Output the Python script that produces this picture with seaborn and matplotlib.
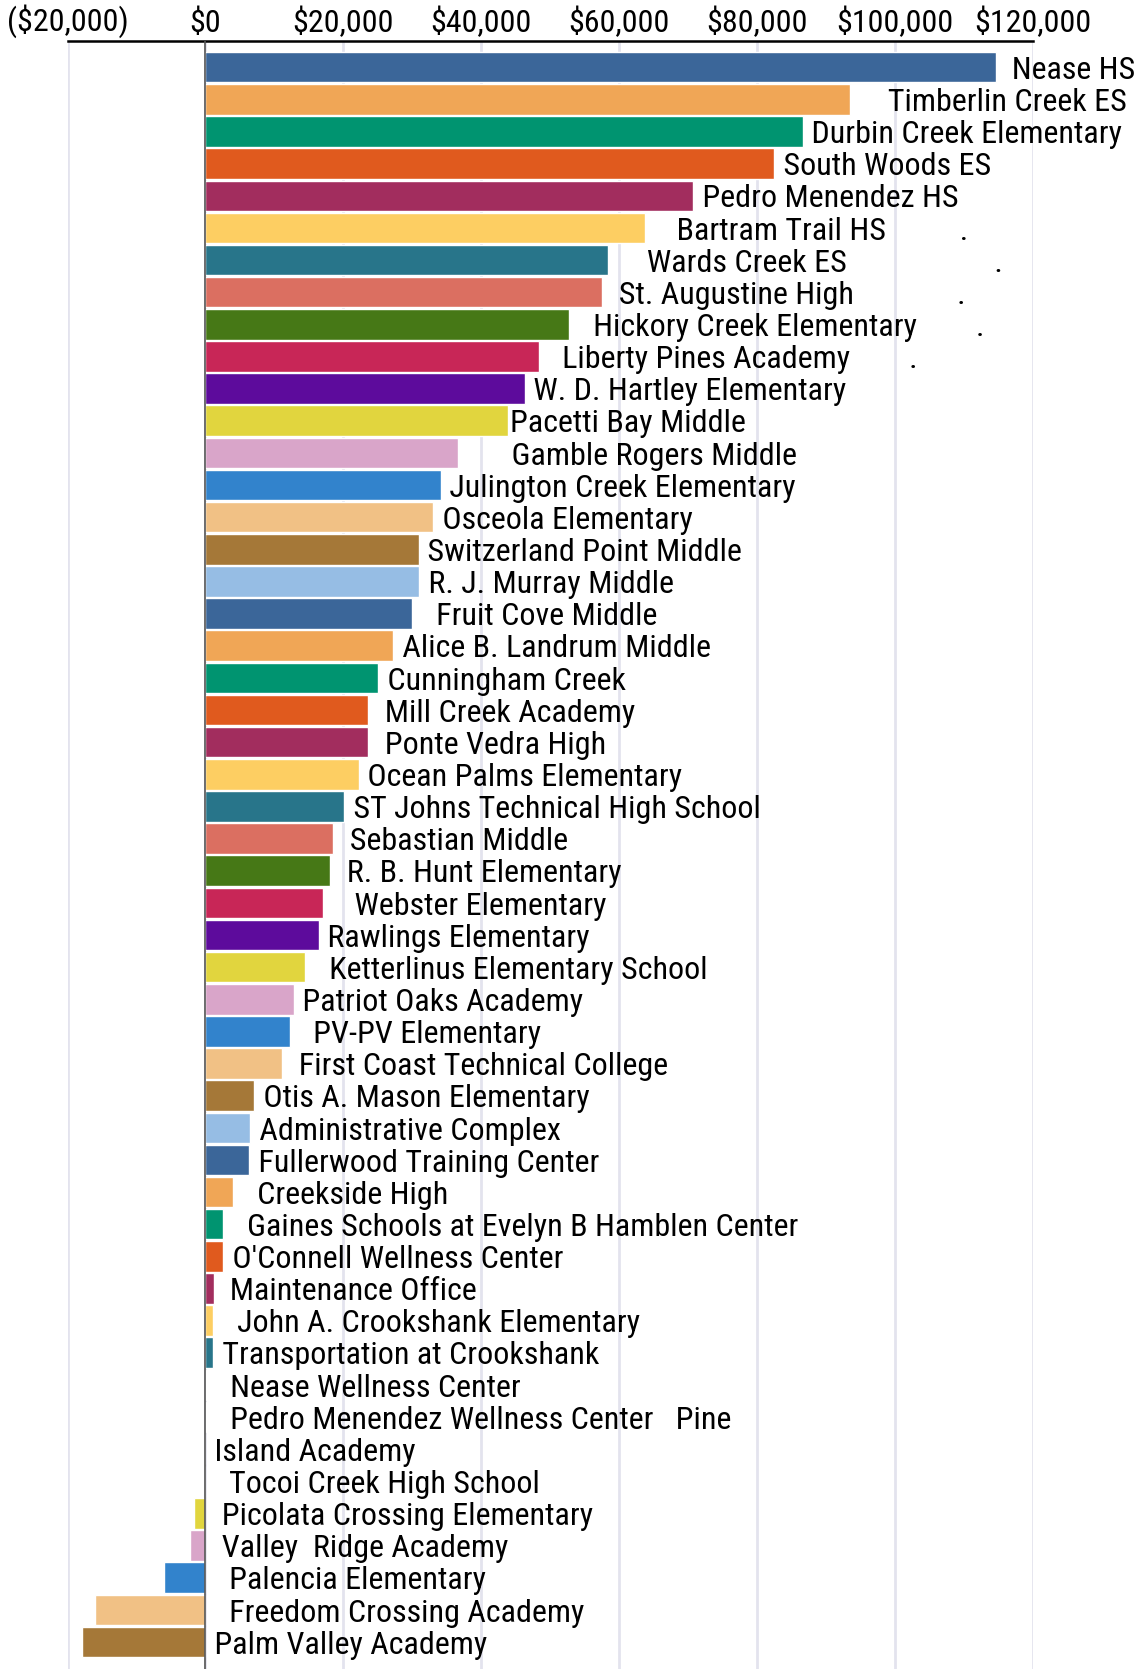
import matplotlib
matplotlib.use("Agg")
import warnings
import numpy as np
import pandas as pd
import seaborn as sns
from matplotlib import pyplot as plt
from matplotlib.ticker import FuncFormatter

warnings.filterwarnings("ignore")
sns.set_style("white")
plt.rcParams["font.family"] = ["Roboto Condensed", "Archivo Narrow", "PT Sans Narrow",
                               "Fira Sans Condensed", "DejaVu Sans"]

# Data (net dollars per site)
schools = [
    "Nease HS", "Timberlin Creek ES", "Durbin Creek Elementary", "South Woods ES",
    "Pedro Menendez HS", "Bartram Trail HS", "Wards Creek ES", "St. Augustine High",
    "Hickory Creek Elementary", "Liberty Pines Academy", "W. D. Hartley Elementary",
    "Pacetti Bay Middle", "Gamble Rogers Middle", "Julington Creek Elementary",
    "Osceola Elementary", "Switzerland Point Middle", "R. J. Murray Middle",
    "Fruit Cove Middle", "Alice B. Landrum Middle", "Cunningham Creek",
    "Mill Creek Academy", "Ponte Vedra High", "Ocean Palms Elementary",
    "ST Johns Technical High School", "Sebastian Middle", "R. B. Hunt Elementary",
    "Webster Elementary", "Rawlings Elementary", "Ketterlinus Elementary School",
    "Patriot Oaks Academy", "PV-PV Elementary", "First Coast Technical College",
    "Otis A. Mason Elementary", "Administrative Complex", "Fullerwood Training Center",
    "Creekside High", "Gaines Schools at Evelyn B Hamblen Center",
    "O'Connell Wellness Center", "Maintenance Office", "John A. Crookshank Elementary",
    "Transportation at Crookshank", "Nease Wellness Center",
    "Pedro Menendez Wellness Center", "Pine Island Academy", "Tocoi Creek High School",
    "Picolata Crossing Elementary", "Valley  Ridge Academy", "Palencia Elementary",
    "Freedom Crossing Academy", "Palm Valley Academy",
]

amounts = [
    114600, 93400, 86600, 82500, 70700, 63800, 58400, 57500, 52700, 48300,
    46300, 43900, 36600, 34100, 33000, 30900, 31000, 30000, 27200, 25000,
    23600, 23600, 22200, 20100, 18500, 18100, 17100, 16400, 14500, 12800,
    12200, 11100, 7100, 6500, 6300, 4000, 2600, 2600, 1200, 1100,
    1100, 150, 100, 0, 0, -1600, -2200, -6000, -16000, -17900,
]

# Labels as they appear on the chart (spacing and wrapping kept)
bar_labels = [
    "  Nease HS", "     Timberlin Creek ES", " Durbin Creek Elementary", " South Woods ES",
    " Pedro Menendez HS", "    Bartram Trail HS          .", "     Wards Creek ES                    .",
    "  St. Augustine High              .", "   Hickory Creek Elementary        .",
    "   Liberty Pines Academy        .", " W. D. Hartley Elementary",
    "Pacetti Bay Middle", "       Gamble Rogers Middle", " Julington Creek Elementary",
    " Osceola Elementary", " Switzerland Point Middle", " R. J. Murray Middle",
    "   Fruit Cove Middle", " Alice B. Landrum Middle", " Cunningham Creek",
    "  Mill Creek Academy", "  Ponte Vedra High", " Ocean Palms Elementary",
    " ST Johns Technical High School", "  Sebastian Middle", "  R. B. Hunt Elementary",
    "    Webster Elementary", " Rawlings Elementary", "   Ketterlinus Elementary School",
    " Patriot Oaks Academy", "   PV-PV Elementary", "  First Coast Technical College",
    " Otis A. Mason Elementary", " Administrative Complex", " Fullerwood Training Center",
    "   Creekside High", "   Gaines Schools at Evelyn B Hamblen Center",
    " O'Connell Wellness Center", "  Maintenance Office", "   John A. Crookshank Elementary",
    " Transportation at Crookshank", "   Nease Wellness Center",
    "   Pedro Menendez Wellness Center   Pine", " Island Academy", "   Tocoi Creek High School",
    "  Picolata Crossing Elementary", "  Valley  Ridge Academy", "   Palencia Elementary",
    "   Freedom Crossing Academy", " Palm Valley Academy",
]

palette = [
    "#3B6699", "#F0A656", "#009470", "#E05A1E", "#A22D5E", "#FDCE62",
    "#28758A", "#DB6F61", "#467816", "#C82657", "#5D0B9C", "#E1D53E",
    "#D9A5C9", "#3283CC", "#F1C185", "#A57838", "#96BDE4",
]

x_ticks = [-20000, 0, 20000, 40000, 60000, 80000, 100000, 120000]


def money(v, _pos=None):
    if v < 0:
        return f"(${abs(v):,.0f})"
    return f"${v:,.0f}"


df = pd.DataFrame({"school": schools, "amount": amounts})
colors = [palette[i % len(palette)] for i in range(len(df))]

fig = plt.figure(figsize=(11.39, 16.69), dpi=100)
ax = fig.add_axes([0.0593, 0.0, 0.8476, 0.9757])

sns.barplot(
    data=df, x="amount", y="school", hue="school", palette=colors,
    orient="h", width=0.95, legend=False, ax=ax, saturation=1,
)

for i, (val, lab) in enumerate(zip(amounts, bar_labels)):
    ax.text(max(val, 0) + 250, i + 0.1, lab, va="center", ha="left",
            fontsize=23, color="black", clip_on=False)

ax.set_xlim(-20000, 120000)
ax.set_ylim(len(df) - 0.5 + 0.34, -0.5 - 0.33)
ax.set_xticks(x_ticks)
ax.xaxis.set_major_formatter(FuncFormatter(money))
ax.xaxis.tick_top()
ax.tick_params(axis="x", length=0, pad=2, labelsize=23, labelcolor="black")
ax.set_yticks([])
ax.set_xlabel("")
ax.set_ylabel("")

ax.grid(axis="x", color="#E3E3EE", linewidth=2)
ax.set_axisbelow(True)
ax.axvline(0, color="#555555", linewidth=1.2, zorder=3)

for side in ["left", "right", "bottom"]:
    ax.spines[side].set_visible(False)
ax.spines["top"].set_color("black")
ax.spines["top"].set_linewidth(1.8)

fig.savefig("out.png", dpi=100)
